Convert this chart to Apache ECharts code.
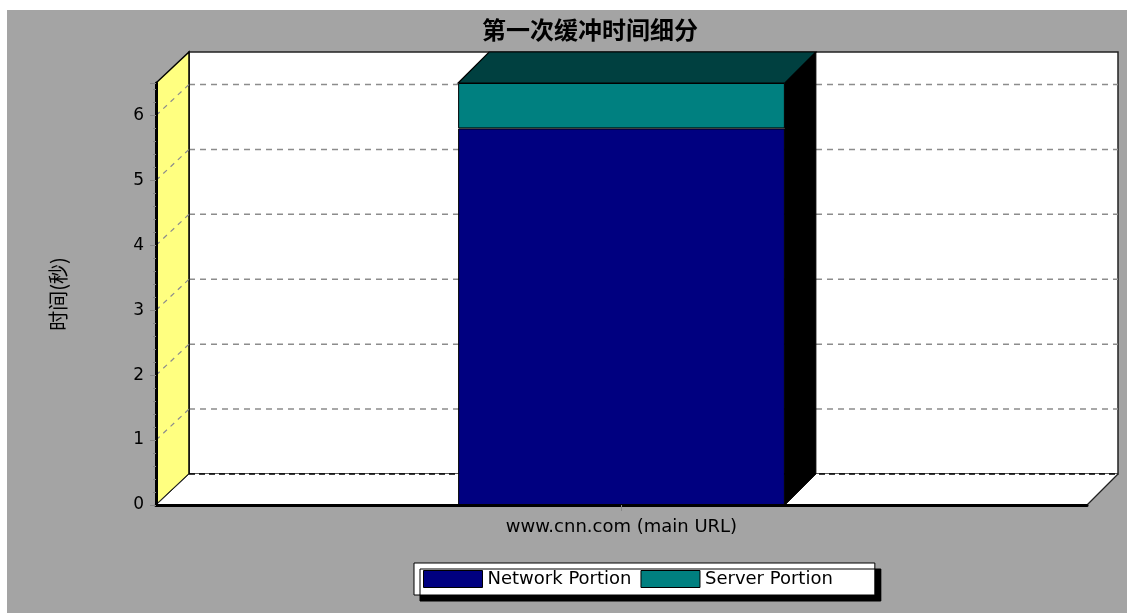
<!DOCTYPE html>
<html><head><meta charset="utf-8">
<script src="https://cdn.jsdelivr.net/npm/echarts@6/dist/echarts.min.js"></script>
<style>html,body{margin:0;padding:0;background:#fff}#c{width:1127px;height:613px}</style>
</head><body><div id="c"></div>
<script>
// ---- data ----
const categories = ['www.cnn.com (main URL)'];
const networkPortion = [5.80];
const serverPortion = [0.70];
const yTicks = [0, 1, 2, 3, 4, 5, 6];
const yMax = 6.5;
const seriesNames = ['Network Portion', 'Server Portion'];
const titleText = '第一次缓冲时间细分';
const yAxisName = '时间(秒)';

// ---- style constants ----
const DX = 31, DY = -31;
const BAR_RATIO = 0.351;
const FONT = 'DejaVu Sans, sans-serif';
const totals = categories.map((c, i) => networkPortion[i] + serverPortion[i]);

const chart = echarts.init(document.getElementById('c'));

function renderWalls(params, api) {
  const cs = params.coordSys;
  const x0 = cs.x, x1 = cs.x + cs.width, yb = cs.y + cs.height, yt = cs.y;
  const ch = [];
  ch.push({type: 'polygon', shape: {points: [[x0 + DX + 2, yt + DY], [x1 + DX, yt + DY], [x1 + DX, yb + DY], [x0 + DX + 2, yb + DY]]},
    style: {fill: '#fff', stroke: '#222', lineWidth: 1.5}});
  yTicks.forEach(v => {
    if (v === 0) return;
    const y = api.coord([0, v])[1];
    ch.push({type: 'line', shape: {x1: x0 + DX + 2, y1: y + DY, x2: x1 + DX, y2: y + DY},
      style: {stroke: '#8c8c8c', lineWidth: 1.5, lineDash: [6, 5]}});
  });
  ch.push({type: 'polygon', shape: {points: [[x0, yb], [x0, yt], [x0 + DX + 2, yt + DY], [x0 + DX + 2, yb + DY]]},
    style: {fill: '#FFFF80', stroke: '#000', lineWidth: 1.5}});
  yTicks.forEach(v => {
    if (v === 0) return;
    const y = api.coord([0, v])[1];
    ch.push({type: 'line', shape: {x1: x0, y1: y, x2: x0 + DX + 2, y2: y + DY},
      style: {stroke: '#8c8c8c', lineWidth: 1.2, lineDash: [5, 5]}});
  });
  ch.push({type: 'polygon', shape: {points: [[x0, yb], [x1, yb], [x1 + DX, yb + DY], [x0 + DX + 2, yb + DY]]},
    style: {fill: '#fff'}});
  ch.push({type: 'line', shape: {x1: x1, y1: yb, x2: x1 + DX, y2: yb + DY}, style: {stroke: '#222', lineWidth: 1.2}});
  ch.push({type: 'line', shape: {x1: x0, y1: yb, x2: x0 + DX + 2, y2: yb + DY}, style: {stroke: '#222', lineWidth: 1}});
  const y0 = api.coord([0, 0])[1];
  ch.push({type: 'line', shape: {x1: x0 + DX + 2, y1: y0 + DY, x2: x1 + DX, y2: y0 + DY},
    style: {stroke: '#000', lineWidth: 1.5, lineDash: [6, 4]}});
  return {type: 'group', children: ch};
}

function renderFaces(params, api) {
  const idx = api.value(0);
  const top = api.coord([idx, api.value(1)]);
  const base = api.coord([idx, 0]);
  const w = api.size([1, 0])[0] * BAR_RATIO;
  const l = top[0] - w / 2, r = top[0] + w / 2;
  return {type: 'group', children: [
    {type: 'polygon', shape: {points: [[r, base[1]], [r, top[1]], [r + DX, top[1] + DY], [r + DX, base[1] + DY]]},
      style: {fill: '#000', stroke: '#000', lineWidth: 1}},
    {type: 'polygon', shape: {points: [[l, top[1]], [r, top[1]], [r + DX, top[1] + DY], [l + DX, top[1] + DY]]},
      style: {fill: '#004040', stroke: '#000', lineWidth: 1.2}}
  ]};
}

chart.setOption({
  backgroundColor: '#fff',
  animation: false,
  graphic: [{type: 'rect', z: -100, silent: true, shape: {x: 7, y: 10, width: 1120, height: 603}, style: {fill: '#A4A4A4'}}],
  title: {text: titleText, left: 585, top: 13, textAlign: 'center',
    textStyle: {fontSize: 24, fontWeight: 'bold', color: '#000', fontFamily: 'Noto Sans CJK SC'}},
  grid: {left: 156, right: 40, top: 83, bottom: 108, containLabel: false},
  legend: {data: seriesNames, left: 414, top: 563, padding: [7, 42, 7, 9], itemWidth: 59, itemHeight: 17, itemGap: 9,
    backgroundColor: '#fff', borderColor: '#000', borderWidth: 1, borderRadius: 0,
    shadowColor: '#000', shadowOffsetX: 6, shadowOffsetY: 6, shadowBlur: 0.01,
    icon: 'rect', itemStyle: {borderColor: '#000', borderWidth: 1}, selectedMode: false,
    textStyle: {fontSize: 18, color: '#000', fontFamily: FONT}},
  xAxis: {type: 'category', data: categories, z: 10,
    axisLine: {show: true, lineStyle: {color: '#000', width: 3}},
    axisTick: {show: true, alignWithLabel: true, length: 6, lineStyle: {color: '#888'}},
    axisLabel: {fontSize: 18, color: '#000', margin: 13, fontFamily: FONT},
    splitLine: {show: false}},
  yAxis: {type: 'value', min: 0, max: yMax, interval: 1, z: 10,
    name: yAxisName, nameLocation: 'middle', nameRotate: 90, nameGap: 88,
    nameTextStyle: {fontSize: 20, color: '#000', fontFamily: 'Noto Sans CJK SC'},
    axisLine: {show: true, lineStyle: {color: '#000', width: 3}},
    axisTick: {show: true, length: 6, lineStyle: {color: '#888'}},
    minorTick: {show: true, splitNumber: 5, length: 3, lineStyle: {color: '#888'}},
    axisLabel: {fontSize: 17, color: '#000', margin: 12, fontFamily: FONT,
      formatter: v => (Number.isInteger(v) ? String(v) : '')},
    splitLine: {show: false}},
  series: [
    {type: 'custom', name: 'walls', silent: true, z: 1, renderItem: renderWalls, data: [[0, 0]], encode: {x: 0, y: 1}},
    {type: 'bar', name: seriesNames[0], stack: 'total', data: networkPortion, barWidth: (BAR_RATIO * 100) + '%', z: 3,
      itemStyle: {color: '#000080', borderColor: '#000', borderWidth: 1}},
    {type: 'bar', name: seriesNames[1], stack: 'total', data: serverPortion, barWidth: (BAR_RATIO * 100) + '%', z: 3,
      itemStyle: {color: '#008080', borderColor: '#000', borderWidth: 1}},
    {type: 'custom', name: 'faces', silent: true, z: 4, renderItem: renderFaces,
      data: totals.map((t, i) => [i, t]), encode: {x: 0, y: 1}}
  ]
});
</script></body></html>
